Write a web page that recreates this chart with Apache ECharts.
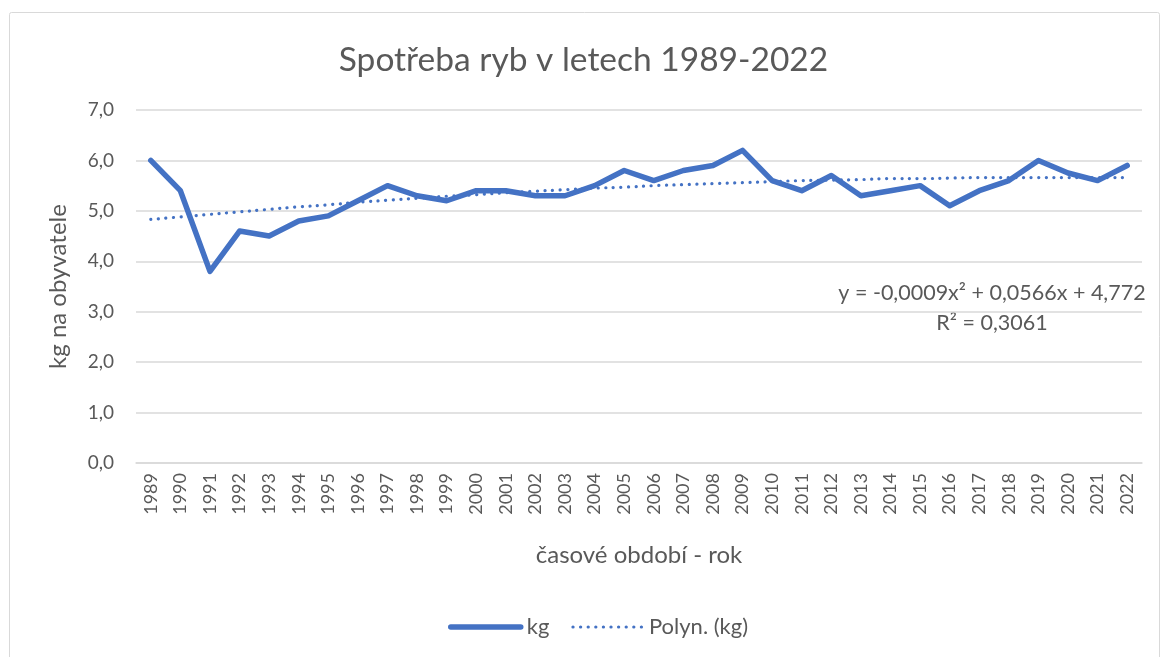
<!DOCTYPE html>
<html>
<head>
<meta charset="utf-8">
<script src="https://cdn.jsdelivr.net/npm/echarts@6/dist/echarts.min.js"></script>
<style>
  html, body { margin: 0; padding: 0; background: #fff; }
  #chart { width: 1167px; height: 657px; }
</style>
</head>
<body>
<div id="chart"></div>
<script>
// roky
const years = ["1989", "1990", "1991", "1992", "1993", "1994", "1995", "1996", "1997", "1998",
  "1999", "2000", "2001", "2002", "2003", "2004", "2005", "2006", "2007", "2008",
  "2009", "2010", "2011", "2012", "2013", "2014", "2015", "2016", "2017", "2018",
  "2019", "2020", "2021", "2022"];
// spotřeba kg na obyvatele
const kgValues = [6.0, 5.4, 3.8, 4.6, 4.5, 4.8, 4.9, 5.2, 5.5, 5.3,
  5.2, 5.4, 5.4, 5.3, 5.3, 5.5, 5.8, 5.6, 5.8, 5.9,
  6.2, 5.6, 5.4, 5.7, 5.3, 5.4, 5.5, 5.1, 5.4, 5.6,
  6.0, 5.75, 5.6, 5.9];
// trendová křivka
const trendValues = [4.83, 4.88, 4.93, 4.98, 5.03, 5.08, 5.12, 5.17, 5.21, 5.25,
  5.29, 5.32, 5.36, 5.39, 5.42, 5.45, 5.47, 5.50, 5.52, 5.54,
  5.56, 5.58, 5.60, 5.61, 5.62, 5.64, 5.64, 5.65, 5.66, 5.66,
  5.66, 5.66, 5.66, 5.66];
const yTicks = [0, 1, 2, 3, 4, 5, 6, 7];
const equationText = "y = -0,0009x² + 0,0566x + 4,772\nR² = 0,3061";

const font = "Lato";
const textColor = "#595959";
const blue = "#4472C4";

const myChart = echarts.init(document.getElementById("chart"));
const option = {
  backgroundColor: "#fff",
  animation: false,
  textStyle: { fontFamily: font, color: textColor },
  title: {
    text: "Spotřeba ryb v letech 1989-2022",
    left: "center",
    top: 38,
    textStyle: { fontFamily: font, fontSize: 33.5, fontWeight: "normal", color: textColor }
  },
  graphic: [
    {
      type: "rect",
      shape: { x: 9.5, y: 12.5, width: 1150, height: 660, r: 2 },
      style: { fill: "none", stroke: "#d9d9d9", lineWidth: 1 },
      silent: true,
      z: -1
    },
    {
      type: "text",
      style: {
        text: equationText,
        x: 992,
        y: 278,
        fontFamily: font,
        fontSize: 21.5,
        fill: textColor,
        align: "center",
        lineHeight: 30
      }
    }
  ],
  legend: {
    top: 611,
    left: 443,
    itemWidth: 70,
    itemHeight: 14,
    itemGap: 22,
    itemStyle: { opacity: 0 },
    textStyle: { fontFamily: font, fontSize: 22, color: textColor, padding: [0, 0, 0, 1] },
    data: [
      { name: "kg", lineStyle: { width: 5.5, cap: "round" } },
      { name: "Polyn. (kg)", lineStyle: { width: 3.2, type: [0.1, 7.5], cap: "round" } }
    ]
  },
  grid: { left: 136, right: 25, top: 110, bottom: 194 },
  xAxis: {
    type: "category",
    data: years,
    boundaryGap: true,
    name: "časové období - rok",
    nameLocation: "middle",
    nameGap: 80,
    nameTextStyle: { fontFamily: font, fontSize: 24, color: textColor },
    axisLine: { lineStyle: { color: "#d9d9d9", width: 1.5 } },
    axisTick: { show: false },
    axisLabel: { rotate: 90, interval: 0, fontSize: 18, color: textColor, margin: 10 }
  },
  yAxis: {
    type: "value",
    min: yTicks[0],
    max: yTicks[yTicks.length - 1],
    interval: 1,
    name: "kg na obyvatele",
    nameLocation: "middle",
    nameGap: 66,
    nameTextStyle: { fontFamily: font, fontSize: 24, color: textColor },
    axisLine: { show: false },
    axisTick: { show: false },
    splitLine: { lineStyle: { color: "#d9d9d9", width: 1.5 } },
    axisLabel: {
      fontSize: 19,
      color: textColor,
      margin: 22,
      formatter: v => v.toFixed(1).replace(".", ",")
    }
  },
  series: [
    {
      name: "kg",
      type: "line",
      data: kgValues,
      symbol: "none",
      lineStyle: { color: blue, width: 5.5, cap: "round", join: "round" },
      itemStyle: { color: blue },
      z: 3
    },
    {
      name: "Polyn. (kg)",
      type: "line",
      data: trendValues,
      symbol: "none",
      smooth: true,
      lineStyle: { color: blue, width: 3.2, type: [0.1, 7.5], cap: "round" },
      itemStyle: { color: blue },
      z: 2
    }
  ]
};
myChart.setOption(option);
</script>
</body>
</html>
